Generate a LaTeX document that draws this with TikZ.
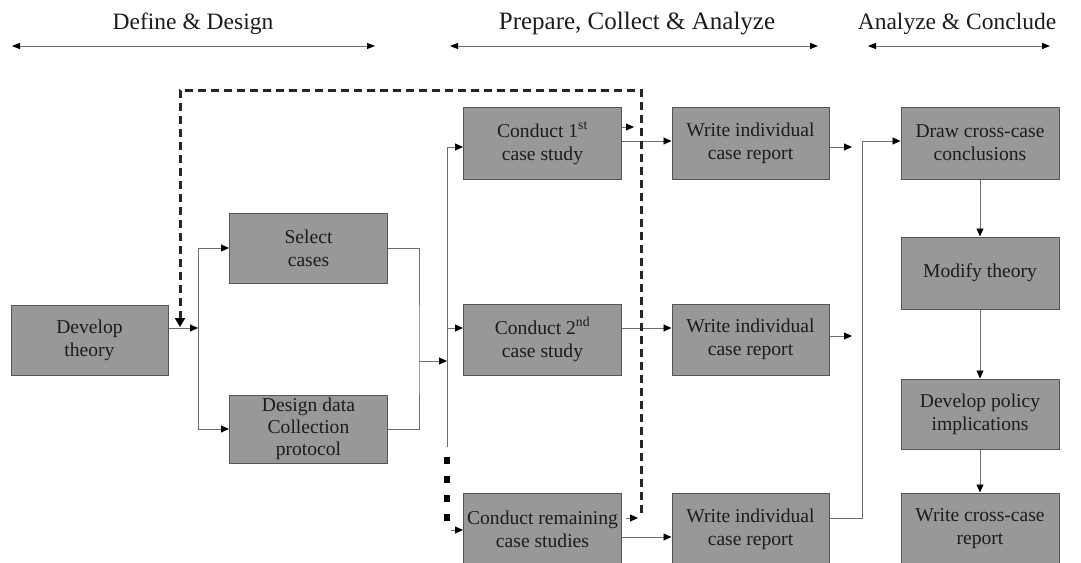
\documentclass[tikz,border=0pt]{standalone}
\usepackage{fontspec}
\setmainfont{Liberation Serif}
\usetikzlibrary{arrows.meta}
\definecolor{boxfill}{RGB}{152,152,152}
\definecolor{boxline}{RGB}{85,85,85}
\definecolor{lineg}{RGB}{110,110,110}
\definecolor{txt}{RGB}{28,28,28}
\begin{document}
\begin{tikzpicture}[x=1pt,y=-1pt,
  box/.style={draw=boxline, line width=1pt, fill=boxfill, text=txt,
    minimum width=158pt, minimum height=71pt, align=center, inner sep=0pt,
    font=\fontsize{19.6}{23}\selectfont},
  conn/.style={draw=lineg, line width=0.9pt},
  arr/.style={conn, -{Triangle[length=8pt,width=7pt,color=black]}},
  fb/.style={draw=black!85, line width=3pt, dash pattern=on 8pt off 5pt},
  dotsq/.style={draw=black, line width=6.5pt, dash pattern=on 7pt off 12pt},
  hdr/.style={text=txt, font=\fontsize{23.5}{27}\selectfont, anchor=base},
  hdrarr/.style={draw=lineg, line width=1pt,
    {Triangle[length=8pt,width=6pt,color=black]}-{Triangle[length=8pt,width=6pt,color=black]}}
]
\useasboundingbox (0,0) rectangle (1081,562);

% headers
\node[hdr] (h1) at (193,29) {Define \& Design};
\node[hdr, font=\fontsize{25}{27}\selectfont] (h2) at (637,29) {Prepare, Collect \& Analyze};
\node[hdr] (h3) at (957,29) {Analyze \& Conclude};
\coordinate (a1l) at (12,46); \coordinate (a1r) at (375,46);
\coordinate (a2l) at (450,46); \coordinate (a2r) at (818,46);
\coordinate (a3l) at (868,46); \coordinate (a3r) at (1050,46);
\draw[hdrarr] (a1l) -- (a1r);
\draw[hdrarr] (a2l) -- (a2r);
\draw[hdrarr] (a3l) -- (a3r);

% boxes
\node[box, minimum width=157pt, minimum height=70pt] (theory) at (89.5,340) {Develop\\theory};
\node[box, minimum height=70pt] (select) at (308.5,248) {Select\\cases};
\node[box, minimum height=68pt, font=\fontsize{19.6}{22}\selectfont] (design) at (308.5,429) {Design data\\Collection\\protocol};
\node[box, minimum height=72pt] (c1) at (542.5,143) {Conduct 1\textsuperscript{st}\\case study};
\node[box, minimum height=71pt] (c2) at (542.5,339.5) {Conduct 2\textsuperscript{nd}\\case study};
\node[box, minimum height=72pt] (c3) at (542.5,529) {Conduct remaining\\case studies};
\node[box, minimum width=157pt, minimum height=72pt] (w1) at (750.5,143) {Write individual\\case report};
\node[box, minimum width=157pt, minimum height=71pt] (w2) at (750.5,339.5) {Write individual\\case report};
\node[box, minimum width=157pt, minimum height=72pt] (w3) at (750.5,529) {Write individual\\case report};
\node[box, minimum height=72pt] (draw) at (980,143) {Draw cross-case\\conclusions};
\node[box, minimum height=72pt] (modify) at (980,273) {Modify theory};
\node[box, minimum height=70pt] (policy) at (980,414) {Develop policy\\implications};
\node[box, minimum height=72pt] (cross) at (980,529) {Write cross-case\\report};

% develop theory -> select / design
\coordinate (j1) at (198,328);
\draw[arr] (theory.east |- j1) -- (j1);
\draw[conn] (j1 |- select.west) -- (j1 |- design.west);
\draw[arr] (j1 |- select.west) -- (select.west);
\draw[arr] (j1 |- design.west) -- (design.west);

% select / design -> conduct
\coordinate (j2) at (419,361);
\coordinate (j3) at (447,361);
\draw[conn] (select.east) -| (j2) |- (design.east);
\draw[arr] (j2) -- (j3);
\coordinate (vtop) at (447,147);
\coordinate (vmid) at (447,328);
\coordinate (vbot) at (447,447);
\draw[conn] (vtop) -- (vbot);
\draw[arr] (vtop) -- (c1.west |- vtop);
\draw[arr] (vmid) -- (c2.west |- vmid);
\coordinate (d1) at (447,457);
\coordinate (d2) at (447,525);
\draw[dotsq] (d1) -- (d2);
\coordinate (v3) at (451,530);
\draw[arr] (v3) -- (c3.west |- v3);

% conduct -> write
\coordinate (r1) at (0,141);
\coordinate (r2) at (0,328);
\coordinate (r3) at (0,537);
\draw[arr] (c1.east |- r1) -- (w1.west |- r1);
\draw[arr] (c2.east |- r2) -- (w2.west |- r2);
\draw[arr] (c3.east |- r3) -- (w3.west |- r3);

% feedback
\coordinate (fa) at (634,127);
\coordinate (fs) at (626,518);
\coordinate (fbe) at (638,518);
\draw[arr] (c1.east |- fa) -- (fa);
\draw[arr] (fs) -- (fbe);
\coordinate (fb1) at (641,513);
\coordinate (fb2) at (641,90);
\coordinate (fb3) at (180,90);
\coordinate (fb4) at (180,327);
\draw[fb, -{Triangle[length=9pt,width=10pt,color=black]}] (fb1) -- (fb2) -- (fb3) -- (fb4);

% write -> cross-case
\coordinate (o1) at (852,147);
\coordinate (o2) at (852,336);
\draw[arr] (w1.east |- o1) -- (o1);
\draw[arr] (w2.east |- o2) -- (o2);
\coordinate (k) at (862,518);
\coordinate (kin) at (0,141);
\draw[arr] (w3.east |- k) -- (k) |- (draw.west |- kin);

% right column
\draw[arr] (draw.south) -- (modify.north);
\draw[arr] (modify.south) -- (policy.north);
\draw[arr] (policy.south) -- (cross.north);
\end{tikzpicture}
\end{document}
